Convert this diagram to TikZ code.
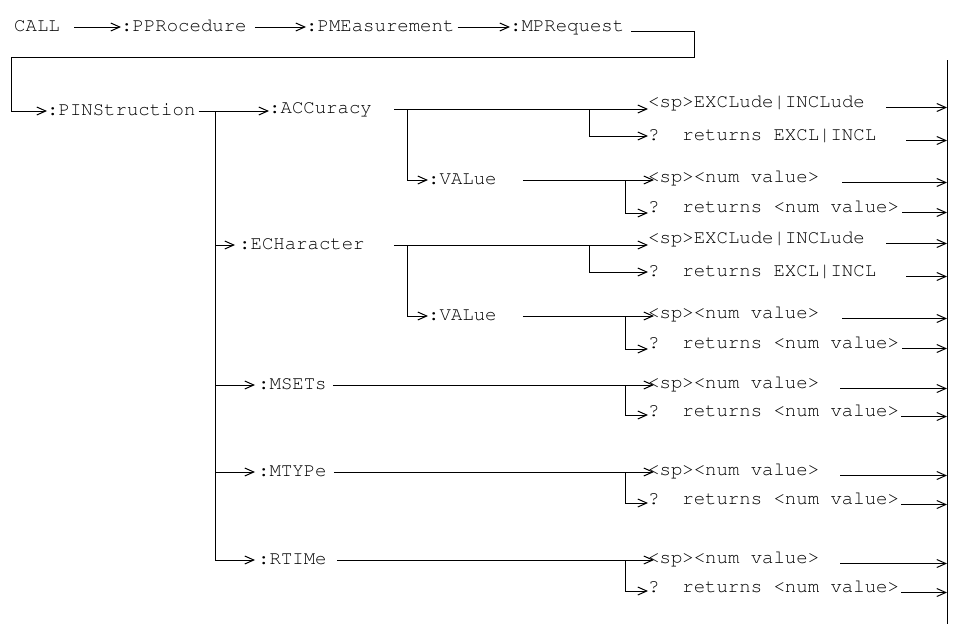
\documentclass[tikz,border=0pt]{standalone}
\usepackage[T1]{fontenc}
\newcommand\scpifont{\fontfamily{pcr}\selectfont}
\usetikzlibrary{arrows.meta}
\begin{document}
\begin{tikzpicture}[x=1pt, y=-1pt,
  scpilbl/.style = {font=\scpifont\fontsize{19}{20}\selectfont, text=black, inner sep=0pt, anchor=west, text height=11pt, text depth=2pt},
  scpiline/.style = {line width=1pt},
  scpiarr/.style = {scpiline, -{Straight Barb[length=9pt,width=8pt]}}
]
  \useasboundingbox (0,0) rectangle (969,624);
  % CALL:PPRocedure:PMEasurement:MPRequest
  \node[scpilbl] (call)  at (14,27)  {CALL};
  \node[scpilbl] (pproc) at (121,27) {:PPRocedure};
  \node[scpilbl] (pmeas) at (306,27) {:PMEasurement};
  \node[scpilbl] (mpreq) at (510,27) {:MPRequest};
  \draw[scpiarr] ([xshift=14pt]call.east) -- (pproc.west);
  \draw[scpiarr] ([xshift=8pt]pproc.east) -- (pmeas.west);
  \draw[scpiarr] ([xshift=3pt]pmeas.east) -- (mpreq.west);
  % wrap round to :PINStruction
  \coordinate (wrapR) at (694,57);
  \coordinate (wrapL) at (11,57);
  \node[scpilbl] (pinst) at (47,111) {:PINStruction};
  \draw[scpiarr] ([xshift=7pt,yshift=-4pt]mpreq.east) -| (wrapR) -- (wrapL) |- (pinst.west);
  % bar on the right
  \coordinate (bartop) at (947,60);
  \coordinate (barbot) at (947,624);
  \draw[scpiline] (bartop) -- (barbot);
  \coordinate (trunk) at (215,111);

  % :ACCuracy
  \node[scpilbl] (accu)    at (269,109) {:ACCuracy};
  \node[scpilbl] (accexcl) at (648,103) {<sp>EXCLude|INCLude};
  \node[scpilbl] (accq)    at (648,136) {? returns EXCL|INCL};
  \node[scpilbl] (accval)  at (428,180) {:VALue};
  \node[scpilbl] (accvsp)  at (648,178) {<sp><num value>};
  \node[scpilbl] (accvq)   at (648,208) {? returns <num value>};
  \coordinate (accj1) at (407,109);
  \coordinate (accj2) at (589,109);
  \coordinate (accj3) at (625,180);
  \draw[scpiarr] ([xshift=3pt]pinst.east) -- (pinst.east -| accu.west);
  \draw[scpiarr] ([xshift=22pt]accu.east) -- (accu.east -| accexcl.west);
  \draw[scpiarr] (accj2) |- (accq.west);
  \draw[scpiarr] (accj1) |- (accval.west);
  \draw[scpiarr] ([xshift=26pt]accval.east) -- ([xshift=6pt]accval.east -| accvsp.west);
  \draw[scpiarr] (accj3) |- ([yshift=-5pt]accvq.west);
  \draw[scpiarr] ([xshift=21pt]accexcl.base east) -- (accexcl.base east -| bartop);
  \draw[scpiarr] ([xshift=30pt]accq.base east) -- (accq.base east -| bartop);
  \draw[scpiarr] ([xshift=23pt]accvsp.base east) -- (accvsp.base east -| bartop);
  \draw[scpiarr] ([xshift=3pt]accvq.base east) -- (accvq.base east -| bartop);

  % :ECHaracter
  \node[scpilbl] (echar)   at (239,245) {:ECHaracter};
  \node[scpilbl] (echexcl) at (648,239) {<sp>EXCLude|INCLude};
  \node[scpilbl] (echq)    at (648,272) {? returns EXCL|INCL};
  \node[scpilbl] (echval)  at (428,316) {:VALue};
  \node[scpilbl] (echvsp)  at (648,314) {<sp><num value>};
  \node[scpilbl] (echvq)   at (648,344) {? returns <num value>};
  \coordinate (echj1) at (407,245);
  \coordinate (echj2) at (589,245);
  \coordinate (echj3) at (625,316);
  \draw[scpiarr] (trunk |- echar.west) -- ([xshift=-4pt]echar.west);
  \draw[scpiarr] ([xshift=29pt]echar.east) -- (echar.east -| echexcl.west);
  \draw[scpiarr] (echj2) |- (echq.west);
  \draw[scpiarr] (echj1) |- (echval.west);
  \draw[scpiarr] ([xshift=26pt]echval.east) -- ([xshift=6pt]echval.east -| echvsp.west);
  \draw[scpiarr] (echj3) |- ([yshift=-5pt]echvq.west);
  \draw[scpiarr] ([xshift=21pt]echexcl.base east) -- (echexcl.base east -| bartop);
  \draw[scpiarr] ([xshift=30pt]echq.base east) -- (echq.base east -| bartop);
  \draw[scpiarr] ([xshift=23pt]echvsp.base east) -- (echvsp.base east -| bartop);
  \draw[scpiarr] ([xshift=3pt]echvq.base east) -- (echvq.base east -| bartop);

  % :MSETs
  \node[scpilbl] (msets) at (258,385) {:MSETs};
  \node[scpilbl] (msvsp) at (648,384) {<sp><num value>};
  \node[scpilbl] (msvq)  at (648,412) {? returns <num value>};
  \coordinate (msj) at (625,385);
  \draw[scpiarr] (trunk |- msets.west) -- ([xshift=-3pt]msets.west);
  \draw[scpiarr] ([xshift=6pt]msets.east) -- ([xshift=6pt]msets.east -| msvsp.west);
  \draw[scpiarr] (msj) |- ([yshift=-3pt]msvq.west);
  \draw[scpiarr] ([xshift=21pt]msvsp.base east) -- (msvsp.base east -| bartop);
  \draw[scpiarr] ([xshift=2pt]msvq.base east) -- (msvq.base east -| bartop);

  % :MTYPe
  \node[scpilbl] (mtype) at (258,472) {:MTYPe};
  \node[scpilbl] (mtvsp) at (648,471) {<sp><num value>};
  \node[scpilbl] (mtvq)  at (648,500) {? returns <num value>};
  \coordinate (mtj) at (625,472);
  \draw[scpiarr] (trunk |- mtype.west) -- ([xshift=-3pt]mtype.west);
  \draw[scpiarr] ([xshift=7pt]mtype.east) -- ([xshift=6pt]mtype.east -| mtvsp.west);
  \draw[scpiarr] (mtj) |- ([yshift=-3pt]mtvq.west);
  \draw[scpiarr] ([xshift=21pt]mtvsp.base east) -- (mtvsp.base east -| bartop);
  \draw[scpiarr] ([xshift=2pt]mtvq.base east) -- (mtvq.base east -| bartop);

  % :RTIMe
  \node[scpilbl] (rtime) at (258,560) {:RTIMe};
  \node[scpilbl] (rtvsp) at (648,559) {<sp><num value>};
  \node[scpilbl] (rtvq)  at (648,588) {? returns <num value>};
  \coordinate (rtj) at (625,560);
  \draw[scpiarr] (trunk) |- ([xshift=-3pt]rtime.west);
  \draw[scpiarr] ([xshift=10pt]rtime.east) -- ([xshift=6pt]rtime.east -| rtvsp.west);
  \draw[scpiarr] (rtj) |- ([yshift=-3pt]rtvq.west);
  \draw[scpiarr] ([xshift=21pt]rtvsp.base east) -- (rtvsp.base east -| bartop);
  \draw[scpiarr] ([xshift=2pt]rtvq.base east) -- (rtvq.base east -| bartop);
\end{tikzpicture}
\end{document}
